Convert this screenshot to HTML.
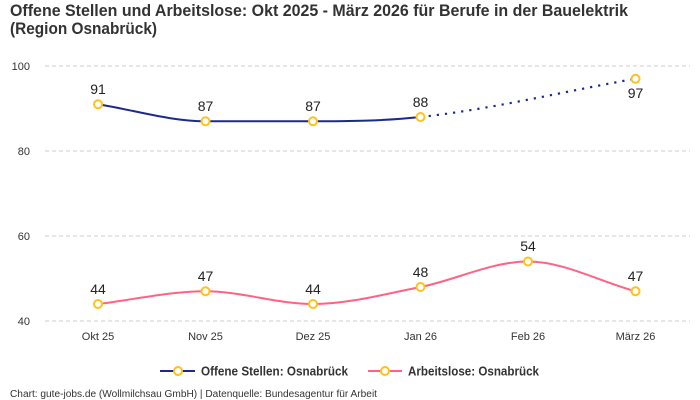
<!DOCTYPE html>
<html><head><meta charset="utf-8"><style>
html,body{margin:0;padding:0;background:#fff;}
svg{display:block;font-family:"Liberation Sans",sans-serif;}
</style></head><body>
<svg width="700" height="400" viewBox="0 0 700 400" xmlns="http://www.w3.org/2000/svg">
<rect width="700" height="400" fill="#fff"/>
<text x="10" y="16" font-size="17" font-weight="bold" fill="#333" textLength="618" lengthAdjust="spacingAndGlyphs">Offene Stellen und Arbeitslose: Okt 2025 - März 2026 für Berufe in der Bauelektrik</text>
<text x="10" y="34" font-size="17" font-weight="bold" fill="#333" textLength="147" lengthAdjust="spacingAndGlyphs">(Region Osnabrück)</text>
<g stroke="#cccccc" stroke-width="1" stroke-dasharray="4 3">
<line x1="45" y1="66" x2="690" y2="66"/>
<line x1="45" y1="151" x2="690" y2="151"/>
<line x1="45" y1="236" x2="690" y2="236"/>
<line x1="45" y1="321" x2="690" y2="321"/>
</g>
<g font-size="11" fill="#333" text-anchor="end">
<text x="30" y="70">100</text>
<text x="30" y="155">80</text>
<text x="30" y="240">60</text>
<text x="30" y="325">40</text>
</g>
<g font-size="11" fill="#333" text-anchor="middle">
<text x="98" y="340">Okt 25</text>
<text x="205.5" y="340">Nov 25</text>
<text x="313" y="340">Dez 25</text>
<text x="420.5" y="340">Jan 26</text>
<text x="528" y="340">Feb 26</text>
<text x="635.5" y="340">März 26</text>
</g>
<path d="M98,104.25 C133.8,109.92 169.6,121.25 205.5,121.25 C241.2,121.25 277,121.25 313,121.25 C348.6,121.25 384.4,120.9 420.5,117" fill="none" stroke="#1b2a8c" stroke-width="2"/>
<path d="M420.5,117 C491.8,109.21 563.4,91.5 635.5,78.75" fill="none" stroke="#1b2a8c" stroke-width="2.2" stroke-dasharray="2.2 6"/>
<path d="M98,304 C133.8,299.75 169.6,291.25 205.5,291.25 C241.2,291.25 277,304 313,304 C348.6,304 384.4,294.08 420.5,287 C456,279.92 491.8,261.5 528,261.5 C563.4,261.5 599.2,281.33 635.5,291.25" fill="none" stroke="#ff6384" stroke-width="2"/>
<g fill="#fff" stroke="#ffc21a" stroke-width="2">
<circle cx="98" cy="104.25" r="4"/>
<circle cx="205.5" cy="121.25" r="4"/>
<circle cx="313" cy="121.25" r="4"/>
<circle cx="420.5" cy="117" r="4"/>
<circle cx="635.5" cy="78.75" r="4"/>
<circle cx="98" cy="304" r="4"/>
<circle cx="205.5" cy="291.25" r="4"/>
<circle cx="313" cy="304" r="4"/>
<circle cx="420.5" cy="287" r="4"/>
<circle cx="528" cy="261.5" r="4"/>
<circle cx="635.5" cy="291.25" r="4"/>
</g>
<g font-size="14" fill="#222" text-anchor="middle">
<text x="98" y="94">91</text>
<text x="205.5" y="111">87</text>
<text x="313" y="111">87</text>
<text x="420.5" y="107">88</text>
<text x="635.5" y="98">97</text>
<text x="98" y="294">44</text>
<text x="205.5" y="281">47</text>
<text x="313" y="294">44</text>
<text x="420.5" y="277">48</text>
<text x="528" y="251">54</text>
<text x="635.5" y="281">47</text>
</g>
<line x1="160" y1="371" x2="195" y2="371" stroke="#1b2a8c" stroke-width="2"/>
<circle cx="178" cy="371" r="4" fill="#fff" stroke="#ffc21a" stroke-width="2"/>
<text x="201" y="375.5" font-size="12.5" font-weight="bold" fill="#333" textLength="147" lengthAdjust="spacingAndGlyphs">Offene Stellen: Osnabrück</text>
<line x1="368" y1="371" x2="402" y2="371" stroke="#ff6384" stroke-width="2"/>
<circle cx="385" cy="371" r="4" fill="#fff" stroke="#ffc21a" stroke-width="2"/>
<text x="408" y="375.5" font-size="12.5" font-weight="bold" fill="#333" textLength="131" lengthAdjust="spacingAndGlyphs">Arbeitslose: Osnabrück</text>
<text x="10" y="397" font-size="10" fill="#333" textLength="367" lengthAdjust="spacingAndGlyphs">Chart: gute-jobs.de (Wollmilchsau GmbH) | Datenquelle: Bundesagentur für Arbeit</text>
</svg>
</body></html>
